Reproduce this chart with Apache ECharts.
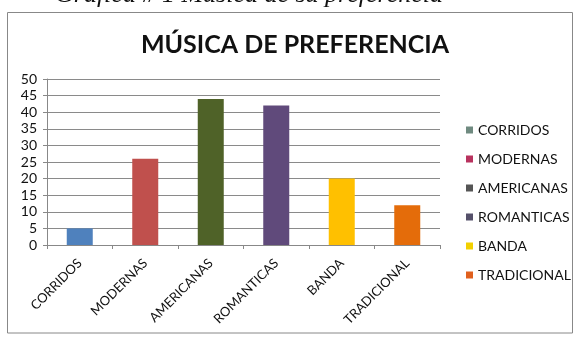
<!DOCTYPE html>
<html><head><meta charset="utf-8">
<script src="https://cdn.jsdelivr.net/npm/echarts@6/dist/echarts.min.js"></script>
<style>html,body{margin:0;padding:0;background:#fff}#c{width:574px;height:337px}</style>
</head><body><div id="c"></div>
<script>
const categories = ['CORRIDOS','MODERNAS','AMERICANAS','ROMANTICAS','BANDA','TRADICIONAL'];
const values = [5, 26, 44, 42, 20, 12];
const barColors = ['#4F81BD','#C0504D','#4F6228','#604A7B','#FFC000','#E46C0A'];
const legendColors = ['#6f8a80','#b8325e','#555555','#55506a','#f2d000','#e0601e'];
const yTicks = [0,5,10,15,20,25,30,35,40,45,50];

const chart = echarts.init(document.getElementById('c'));
const font = 'Lato, "Open Sans", sans-serif';
const series = categories.map((name, i) => ({
  name: name,
  type: 'bar',
  barWidth: 26,
  barGap: '-100%',
  itemStyle: { color: barColors[i] },
  data: categories.map((c, j) => j === i ? values[i] : null)
}));
chart.setOption({
  animation: false,
  textStyle: { fontFamily: font },
  title: {
    text: 'MÚSICA DE PREFERENCIA',
    left: 290, top: 27, textAlign: 'center',
    textStyle: { fontSize: 25, fontWeight: 'bold', color: '#111', fontFamily: font }
  },
  graphic: [
    { type: 'text', left: 55, top: -18, style: { text: 'Gráfica # 1 Música de su preferencia', font: 'italic 26px "Liberation Serif", serif', fill: '#111' } },
    { type: 'rect', shape: { x: 7.5, y: 12.5, width: 565, height: 320.5 }, style: { fill: 'none', stroke: '#888', lineWidth: 1 }, silent: true }
  ],
  grid: { left: 47, right: 134, top: 79, bottom: 92 },
  legend: {
    orient: 'vertical', left: 461, top: 118,
    itemWidth: 7, itemHeight: 7, itemGap: 15,
    icon: 'rect',
    textStyle: { fontSize: 14, color: '#111', fontFamily: font },
    data: categories.map((c, i) => ({ name: c, itemStyle: { color: legendColors[i] } }))
  },
  xAxis: {
    type: 'category', data: categories,
    axisLine: { lineStyle: { color: '#888' } },
    axisTick: { show: true, length: 4, lineStyle: { color: '#888' } },
    axisLabel: { rotate: 45, fontSize: 13, color: '#111', margin: 16, fontFamily: font }
  },
  yAxis: {
    type: 'value', min: 0, max: 50, interval: 5,
    axisLine: { show: true, lineStyle: { color: '#888' } },
    axisTick: { show: true, length: 4, lineStyle: { color: '#888' } },
    splitLine: { lineStyle: { color: '#8a8a8a' } },
    axisLabel: { fontSize: 14, color: '#111', margin: 10, fontFamily: font,
      formatter: v => yTicks.includes(v) ? String(v) : '' }
  },
  series: series
});
</script></body></html>
